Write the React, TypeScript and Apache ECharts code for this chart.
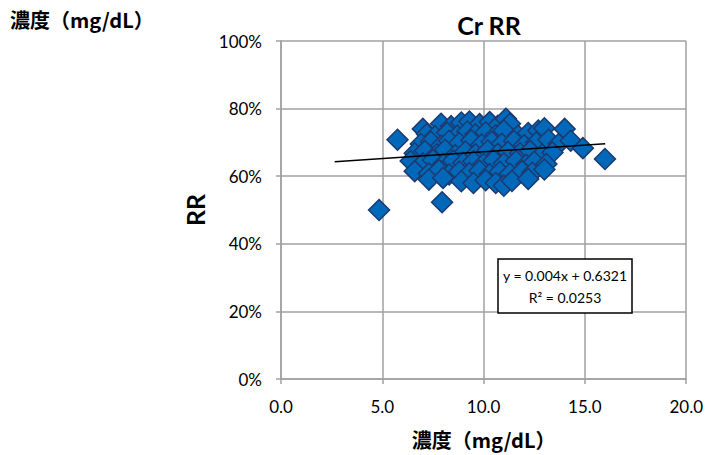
import React, { useEffect, useRef } from "react";
import * as echarts from "echarts";

const title = "Cr RR";
const xAxisTitle = "濃度（mg/dL）";
const yAxisTitle = "RR";
const cornerLabel = "濃度（mg/dL）";

// concentration (mg/dL)
const concX: number[] = [
  7.0, 7.9, 8.4, 8.9, 9.3, 9.8, 10.3, 10.7, 11.1, 11.3,
  7.2, 7.6, 8.2, 8.7, 9.2, 9.6, 10.1, 10.6, 11.0, 11.7, 12.2, 12.7, 13.0, 14.0,
  6.9, 7.4, 7.9, 8.3, 8.8, 9.4, 9.9, 10.4, 10.9, 11.5, 12.0, 12.6, 13.2, 13.7, 14.3,
  6.6, 7.1, 7.7, 8.1, 8.6, 9.1, 9.6, 10.2, 10.7, 11.2, 11.8, 12.3, 12.9, 13.4,
  6.4, 7.0, 7.5, 8.0, 8.5, 9.0, 9.5, 10.0, 10.5, 11.0, 11.6, 12.1, 12.5, 13.1,
  6.6, 7.3, 7.8, 8.3, 8.8, 9.3, 9.8, 10.3, 10.8, 11.3, 11.9, 12.4, 13.0,
  7.3, 8.0, 8.9, 9.5, 10.1, 10.6, 11.0, 11.4, 12.2,
  4.84, 5.75, 7.95, 14.9, 15.99,
];
// RR (fraction)
const rrY: number[] = [
  0.740, 0.755, 0.748, 0.759, 0.762, 0.754, 0.760, 0.749, 0.770, 0.755,
  0.725, 0.718, 0.729, 0.720, 0.732, 0.724, 0.730, 0.722, 0.735, 0.720, 0.728, 0.735, 0.742, 0.740,
  0.695, 0.702, 0.690, 0.705, 0.698, 0.706, 0.694, 0.702, 0.696, 0.704, 0.692, 0.700, 0.708, 0.695, 0.705,
  0.668, 0.675, 0.665, 0.678, 0.662, 0.673, 0.665, 0.676, 0.666, 0.672, 0.668, 0.675, 0.664, 0.670,
  0.645, 0.638, 0.648, 0.635, 0.646, 0.639, 0.644, 0.636, 0.647, 0.638, 0.645, 0.634, 0.643, 0.636,
  0.615, 0.608, 0.618, 0.605, 0.614, 0.609, 0.616, 0.606, 0.613, 0.607, 0.615, 0.610, 0.620,
  0.590, 0.595, 0.585, 0.580, 0.588, 0.580, 0.572, 0.586, 0.592,
  0.500, 0.708, 0.523, 0.683, 0.651,
];

// linear trendline (from the chart's equation)
const trendSlope = 0.004;
const trendIntercept = 0.6321;
const trendRange: number[] = [2.65, 16.0];
const equationLines: string[] = ["y = 0.004x + 0.6321", "R² = 0.0253"];

const xTicks = { min: 0, max: 20, interval: 5 };
const yTicks = { min: 0, max: 1, interval: 0.2 };

const FONT = "Lato, 'Noto Sans', sans-serif";
const CJK = "'Noto Sans CJK JP', 'Noto Sans', sans-serif";

export default function App() {
  const ref = useRef<HTMLDivElement>(null);
  useEffect(() => {
    if (!ref.current) return;
    const chart = echarts.init(ref.current, undefined, { renderer: "svg" });
    const points = concX.map((x, i) => [x, rrY[i]]);
    const trend = trendRange.map((x) => [x, trendSlope * x + trendIntercept]);
    const gridColor = "#a0a0a0";
    chart.setOption({
      animation: false,
      backgroundColor: "#ffffff",
      title: {
        text: title,
        left: 484,
        top: 7,
        textAlign: "center",
        textStyle: { fontFamily: FONT, fontWeight: "bold", fontSize: 25, color: "#000" },
      },
      grid: { left: 281, right: 16, top: 41, bottom: 76, containLabel: false },
      xAxis: {
        type: "value",
        min: xTicks.min,
        max: xTicks.max,
        interval: xTicks.interval,
        name: xAxisTitle,
        nameLocation: "middle",
        nameGap: 50,
        nameTextStyle: { fontFamily: CJK, fontWeight: "bold", fontSize: 20, color: "#000" },
        axisLine: { show: true, lineStyle: { color: gridColor, width: 1.5 } },
        axisTick: { show: true, length: 5, lineStyle: { color: gridColor, width: 1.5 } },
        axisLabel: {
          formatter: (v: number) => v.toFixed(1),
          fontFamily: FONT,
          fontSize: 17,
          color: "#000",
          margin: 19,
        },
        splitLine: { show: true, lineStyle: { color: gridColor, width: 1.5 } },
      },
      yAxis: {
        type: "value",
        min: yTicks.min,
        max: yTicks.max,
        interval: yTicks.interval,
        name: yAxisTitle,
        nameLocation: "middle",
        nameGap: 72,
        nameRotate: 90,
        nameTextStyle: { fontFamily: FONT, fontWeight: "bold", fontSize: 25, color: "#000" },
        axisLine: { show: true, lineStyle: { color: gridColor, width: 1.5 } },
        axisTick: { show: true, length: 5, lineStyle: { color: gridColor, width: 1.5 } },
        axisLabel: {
          formatter: (v: number) => Math.round(v * 100) + "%",
          fontFamily: FONT,
          fontSize: 17,
          color: "#000",
          margin: 19,
        },
        splitLine: { show: true, lineStyle: { color: gridColor, width: 1.5 } },
      },
      series: [
        {
          type: "scatter",
          data: points,
          symbol: "diamond",
          symbolSize: 21,
          itemStyle: { color: "#0068b8", borderColor: "#1c3a70", borderWidth: 1.5, opacity: 1 },
          z: 2,
        },
        {
          type: "line",
          data: trend,
          showSymbol: false,
          symbol: "none",
          lineStyle: { color: "#000", width: 1.5 },
          z: 3,
        },
      ],
      graphic: [
        {
          type: "text",
          left: 10,
          top: 9,
          style: { text: cornerLabel, font: `bold 20px ${CJK}`, fill: "#000" },
        },
        {
          type: "rect",
          shape: { x: 498, y: 259, width: 134, height: 54 },
          style: { fill: "#fff", stroke: "#000", lineWidth: 1.5 },
          z: 10,
        },
        {
          type: "text",
          x: 565,
          y: 275,
          style: {
            text: equationLines[0],
            font: `14px ${FONT}`,
            fill: "#000",
            align: "center",
            verticalAlign: "middle",
          },
          z: 11,
        },
        {
          type: "text",
          x: 565,
          y: 297,
          style: {
            text: equationLines[1],
            font: `14px ${FONT}`,
            fill: "#000",
            align: "center",
            verticalAlign: "middle",
          },
          z: 11,
        },
      ],
    });
    return () => chart.dispose();
  }, []);
  return (
    <div
      ref={ref}
      style={{ position: "fixed", left: 0, top: 0, width: 706, height: 455 }}
    />
  );
}
